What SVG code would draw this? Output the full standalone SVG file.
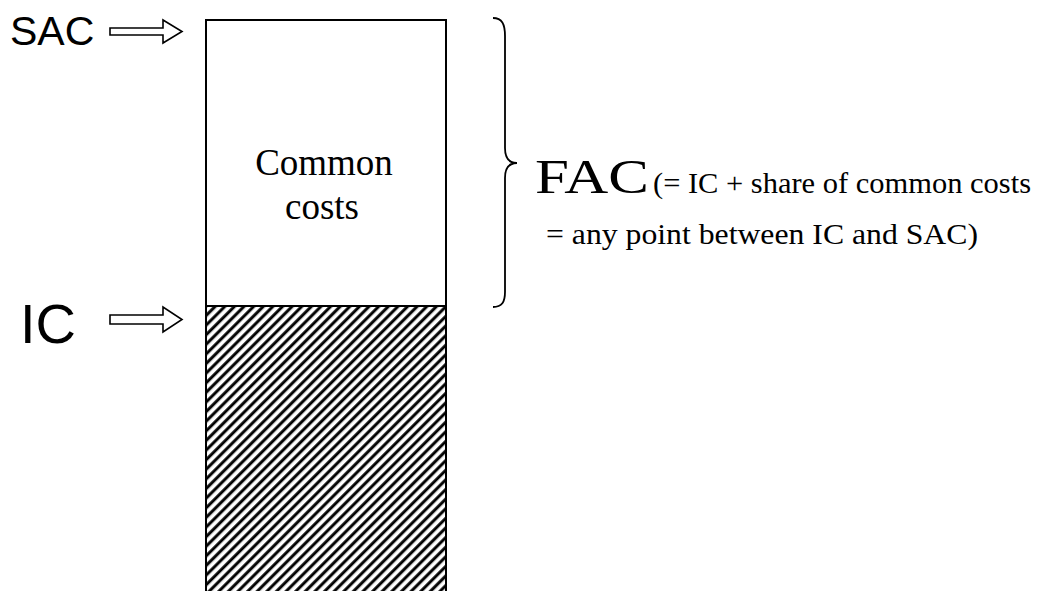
<svg xmlns="http://www.w3.org/2000/svg" width="1055" height="591" viewBox="0 0 1055 591">
  <style>
    .sans { font-family: "Liberation Sans", Arial, sans-serif; fill: #000; }
    .serif { font-family: "Liberation Serif", "Times New Roman", serif; fill: #000; }
    .outline { stroke: #000; stroke-width: 2; }
    .arrow { fill: #fff; stroke: #000; stroke-width: 1.6; stroke-linejoin: miter; }
  </style>
  <defs>
    <pattern id="hatch" patternUnits="userSpaceOnUse" width="6.8" height="6.8" patternTransform="rotate(45)">
      <rect width="6.8" height="6.8" fill="#fff"/>
      <line x1="1.7" y1="-1" x2="1.7" y2="7.8" stroke="#000" stroke-width="3"/>
    </pattern>
  </defs>

  <!-- cost column: common costs on top, incremental costs hatched below -->
  <g id="common-costs">
    <rect x="206" y="20" width="240" height="286" fill="#fff" class="outline"/>
    <text class="serif" font-size="37" x="324" y="175" text-anchor="middle">Common</text>
    <text class="serif" font-size="37" x="322" y="219" text-anchor="middle">costs</text>
  </g>
  <g id="incremental-costs">
    <rect x="206" y="306" width="240" height="300" fill="url(#hatch)" class="outline"/>
  </g>

  <!-- level labels -->
  <g id="sac-label">
    <text class="sans" font-size="41" x="10" y="45">SAC</text>
  </g>
  <g id="ic-label">
    <text class="sans" font-size="56" x="20" y="343">IC</text>
  </g>

  <!-- FAC annotation -->
  <g id="fac-label">
    <text class="serif" font-size="48" x="535" y="193" textLength="114" lengthAdjust="spacingAndGlyphs">FAC</text>
    <text class="serif" font-size="30" x="653" y="193" textLength="378" lengthAdjust="spacingAndGlyphs">(= IC + share of common costs</text>
    <text class="serif" font-size="30" x="546" y="244" textLength="432" lengthAdjust="spacingAndGlyphs">= any point between IC and SAC)</text>
  </g>

  <g id="connectors">
    <!-- hollow arrows pointing at the column -->
    <path class="arrow" d="M110,28 L163,28 L163,20 L182,31.5 L163,43 L163,35 L110,35 Z"/>
    <path class="arrow" d="M110,315 L163,315 L163,307 L182,319.5 L163,332 L163,324 L110,324 Z"/>
    <!-- brace spanning the common costs -->
    <path fill="none" stroke="#000" stroke-width="1.8" d="M493,18 C502,18 505,24 505,36 L505,148 C505,158 509,163 517,163 C509,163 505,168 505,178 L505,292 C505,302 502,307 493,307"/>
  </g>
</svg>
